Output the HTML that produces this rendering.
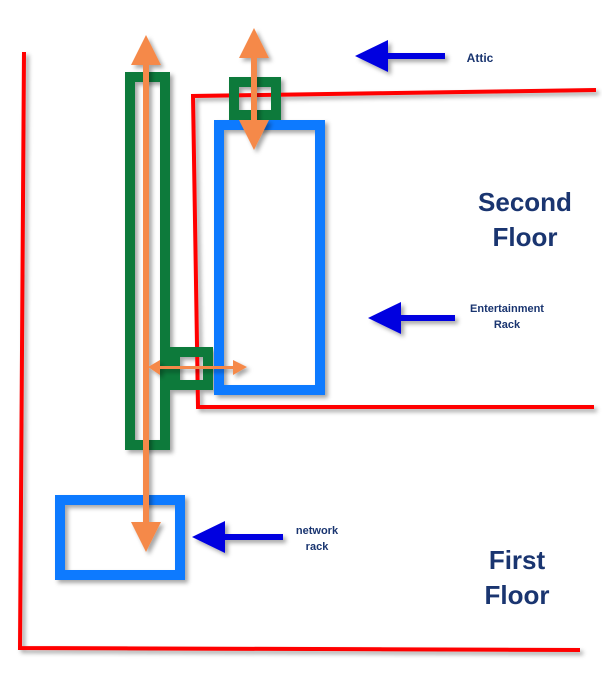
<!DOCTYPE html>
<html><head><style>body{margin:0;background:#fff}svg{display:block}</style></head><body>
<svg width="602" height="681" xmlns="http://www.w3.org/2000/svg" font-family="Liberation Sans, sans-serif">
<defs><filter id="s" x="-20%" y="-20%" width="140%" height="140%"><feDropShadow dx="3" dy="3" stdDeviation="2" flood-color="#000" flood-opacity="0.35"/></filter></defs>
<g filter="url(#s)" fill="none">
<polyline points="24,52 20,648 580,650" stroke="#f00" stroke-width="4"/>
<polyline points="596,90 193,96 198,407 594,407" stroke="#f00" stroke-width="4"/>
<rect x="130" y="77" width="35" height="368" stroke="#0a7a3a" stroke-width="10"/>
<rect x="234" y="82" width="42" height="33" stroke="#0a7a3a" stroke-width="10"/>
<rect x="175" y="352" width="33" height="33" stroke="#0a7a3a" stroke-width="10"/>
<rect x="219" y="125" width="101" height="265" stroke="#0a7aff" stroke-width="10"/>
<rect x="60" y="500" width="120" height="75" stroke="#0a7aff" stroke-width="10"/>
</g>
<g filter="url(#s)" fill="#f5894a" stroke="none">
<rect x="143" y="60" width="6" height="470"/>
<polygon points="146,35 131,65 161,65"/><polygon points="146,552 131,522 161,522"/>
<rect x="251" y="50" width="6" height="80"/>
<polygon points="254,28 239,58 269,58"/><polygon points="254,150 239,120 269,120"/>
<rect x="155" y="366" width="80" height="3"/>
<polygon points="148,367 160,360 160,375"/><polygon points="247,367 233,360 233,375"/>
</g>
<g filter="url(#s)" fill="#0000e0">
<rect x="385" y="53" width="60" height="6"/><polygon points="355,56 388,40 388,72"/>
<rect x="398" y="315" width="57" height="6"/><polygon points="368,318 401,302 401,334"/>
<rect x="222" y="534" width="61" height="6"/><polygon points="192,537 225,521 225,553"/>
</g>
<g fill="#1a3570" font-weight="bold" text-anchor="middle">
<text x="480" y="62" font-size="12">Attic</text>
<text x="525" y="211" font-size="26">Second</text><text x="525" y="246" font-size="26">Floor</text>
<text x="517" y="569" font-size="26">First</text><text x="517" y="604" font-size="26">Floor</text>
<text x="507" y="312" font-size="11">Entertainment</text><text x="507" y="328" font-size="11">Rack</text>
<text x="317" y="534" font-size="11">network</text><text x="317" y="550" font-size="11">rack</text>
</g>
</svg>
</body></html>
